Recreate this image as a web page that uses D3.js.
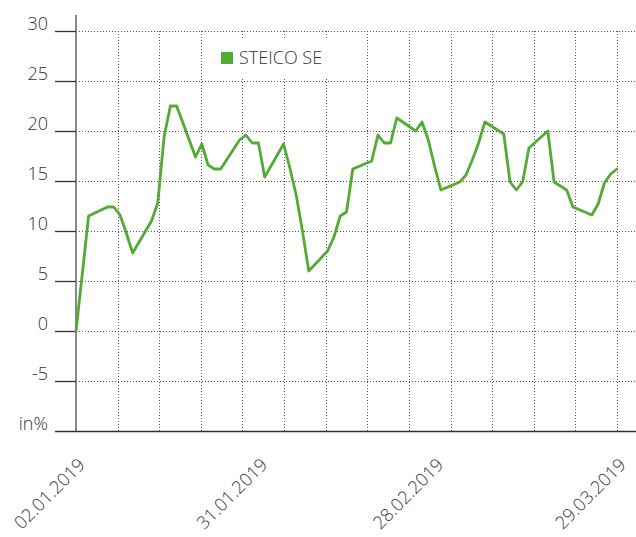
<!DOCTYPE html>
<html>
<head>
<meta charset="utf-8">
<script src="https://cdn.jsdelivr.net/npm/d3@7"></script>
<style>
  html, body { margin: 0; padding: 0; background: #fff; }
  svg { display: block; }
  text { font-family: "Open Sans", "Noto Sans", sans-serif; font-weight: 300; }
</style>
</head>
<body>
<svg id="chart" width="636" height="537"></svg>
<script>
// ---- data ----
const seriesName = "STEICO SE";
const dates = [
  "2019-01-02","2019-01-03","2019-01-04","2019-01-07","2019-01-08","2019-01-09","2019-01-10","2019-01-11",
  "2019-01-14","2019-01-15","2019-01-16","2019-01-17","2019-01-18","2019-01-21","2019-01-22","2019-01-23",
  "2019-01-24","2019-01-25","2019-01-28","2019-01-29","2019-01-30","2019-01-31",
  "2019-02-01","2019-02-04","2019-02-05","2019-02-06","2019-02-07","2019-02-08","2019-02-11","2019-02-12",
  "2019-02-13","2019-02-14","2019-02-15","2019-02-18","2019-02-19","2019-02-20","2019-02-21","2019-02-22",
  "2019-02-25","2019-02-26","2019-02-27","2019-02-28",
  "2019-03-01","2019-03-04","2019-03-05","2019-03-06","2019-03-07","2019-03-08","2019-03-11","2019-03-12",
  "2019-03-13","2019-03-14","2019-03-15","2019-03-18","2019-03-19","2019-03-20","2019-03-21","2019-03-22",
  "2019-03-25","2019-03-26","2019-03-27","2019-03-28","2019-03-29"
];
const values = [
  0, 5.7, 11.5, 12.4, 12.4, 11.6, 9.8, 7.8,
  11.0, 12.8, 19.4, 22.5, 22.5, 17.4, 18.7, 16.6,
  16.2, 16.2, 19.1, 19.6, 18.8, 18.8,
  15.4, 18.7, 16.3, 13.6, 10.0, 6.0, 8.0, 9.4,
  11.5, 11.9, 16.2, 17.0, 19.6, 18.8, 18.8, 21.3,
  20.0, 20.9, 19.1, 16.5,
  14.1, 14.9, 15.6, 17.1, 18.8, 20.9, 19.7, 14.9,
  14.1, 14.9, 18.3, 20.0, 14.9, 14.5, 14.1, 12.4,
  11.6, 12.7, 14.8, 15.7, 16.2
];
const yTicks = [30, 25, 20, 15, 10, 5, 0, -5];
const yUnitLabel = "in%";
const yMin = -10, yMax = 30;
const xTickDates = ["2019-01-02", "2019-01-31", "2019-02-28", "2019-03-29"];
const xTickLabels = ["02.01.2019", "31.01.2019", "28.02.2019", "29.03.2019"];
const gridCount = 13;

// ---- chart ----
(function () {
const svg = d3.select("#chart");
const parse = d3.utcParse("%Y-%m-%d");
const data = dates.map((d, i) => ({ date: parse(d), value: values[i] }));

const pLeft = 76, pRight = 617, pTop = 31, pBottom = 431;
const x = d3.scaleUtc()
  .domain([parse(dates[0]), parse(dates[dates.length - 1])])
  .range([pLeft, pRight]);
const y = d3.scaleLinear().domain([yMin, yMax]).range([pBottom, pTop]);
const g = d3.scaleLinear().domain([0, gridCount]).range([pLeft, pRight]);

const lineGreen = "#52ab33";
const textColor = "#333";

// horizontal grid lines
svg.append("g").selectAll("line").data(yTicks).join("line")
  .attr("x1", pLeft).attr("x2", 636)
  .attr("y1", d => y(d) + 0.5).attr("y2", d => y(d) + 0.5)
  .attr("stroke", "#555").attr("stroke-width", 1)
  .attr("stroke-dasharray", "1,2");

// vertical grid lines
svg.append("g").selectAll("line").data(d3.range(1, gridCount + 1)).join("line")
  .attr("x1", d => Math.round(g(d)) + 0.5).attr("x2", d => Math.round(g(d)) + 0.5)
  .attr("y1", pTop).attr("y2", pBottom)
  .attr("stroke", "#555").attr("stroke-width", 1)
  .attr("stroke-dasharray", "1,2");

// legend background + legend
svg.append("rect").attr("x", 206).attr("y", 38).attr("width", 158).attr("height", 41).attr("fill", "#fff");
svg.append("rect").attr("x", 221).attr("y", 52).attr("width", 12).attr("height", 12).attr("fill", lineGreen);
svg.append("text").attr("x", 239).attr("y", 64)
  .attr("font-size", 18).attr("fill", textColor).text(seriesName);

// y axis line
svg.append("line").attr("x1", pLeft).attr("x2", pLeft).attr("y1", 15).attr("y2", pBottom)
  .attr("stroke", "#8a8a8a").attr("stroke-width", 2);

// y ticks and labels
const yAxisG = svg.append("g");
yAxisG.selectAll("line").data(yTicks).join("line")
  .attr("x1", 55).attr("x2", pLeft)
  .attr("y1", d => y(d) + 0.5).attr("y2", d => y(d) + 0.5)
  .attr("stroke", "#333").attr("stroke-width", 1.3);
yAxisG.selectAll("text").data(yTicks).join("text")
  .attr("x", 48).attr("y", d => y(d) - 1.5)
  .attr("text-anchor", "end").attr("font-size", 18).attr("fill", textColor)
  .text(d => d);
svg.append("text").attr("x", 48).attr("y", y(yMin) - 1.5)
  .attr("text-anchor", "end").attr("font-size", 18).attr("fill", textColor)
  .text(yUnitLabel);

// bottom axis line
svg.append("line").attr("x1", 55).attr("x2", 636).attr("y1", pBottom + 0.5).attr("y2", pBottom + 0.5)
  .attr("stroke", "#333").attr("stroke-width", 1.5);

// x labels
svg.append("g").selectAll("text").data(xTickDates).join("text")
  .attr("text-anchor", "end").attr("font-size", 18).attr("fill", textColor)
  .attr("transform", d => `translate(${x(parse(d)) + 10},${466}) rotate(-45)`)
  .text((d, i) => xTickLabels[i]);

// series line
const line = d3.line().x(d => x(d.date)).y(d => y(d.value));
svg.append("path").datum(data)
  .attr("d", line)
  .attr("fill", "none").attr("stroke", lineGreen).attr("stroke-width", 2.8)
  .attr("stroke-linejoin", "round").attr("stroke-linecap", "round");
})();
</script>
</body>
</html>
